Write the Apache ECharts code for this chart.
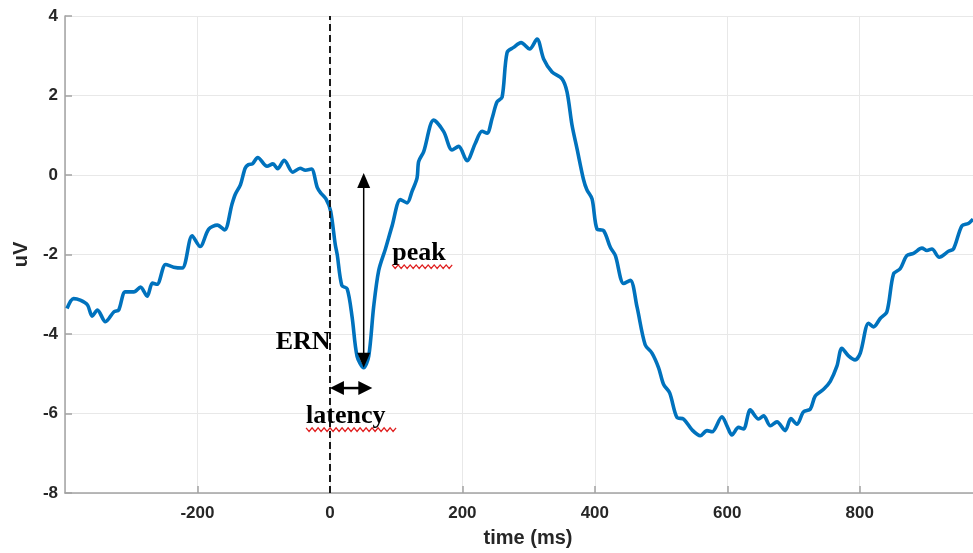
<!DOCTYPE html>
<html><head><meta charset="utf-8">
<script src="https://cdn.jsdelivr.net/npm/echarts@6/dist/echarts.min.js"></script>
<style>html,body{margin:0;padding:0;background:#fff}#c{width:973px;height:553px}</style>
</head><body><div id="c"></div>
<script>
// ---- data ----
const timeMs = [-397,-387,-377,-366,-359,-351,-339,-326,-319,-309,-296,-286,-276,-268,-261,-248,-236,-223,-208,-196,-183,-170,-159,-148,-143,-135,-128,-123,-117,-109,-95,-86,-79,-69,-56,-45,-37,-28,-19,-14,-6,1,8,11,18,26,33.5,41,51,58.6,66,73.7,83.8,93.9,106.4,116.5,124,131.6,134,141.6,156.7,171.8,184.4,194.4,207,219.6,229.7,237.3,244.8,252.4,260,267.5,277.4,288.6,301.6,312.7,322.7,335.4,350.5,358,365.6,373,383,388,395.8,403.3,413.3,423.4,431,443.5,453.6,463.7,476,486.3,496.3,503.9,513,524,534,546.7,559.2,569.4,577,592,599.5,607,617,624.6,634.7,647.2,654.8,665,675,687.5,696,705,715,725.3,732.8,745.4,755.5,765.5,773,783,793,800.8,813.3,820.8,830.9,841,851,861,871,881.2,893.9,901.4,909,920,934,941.6,954.2,964,971];
const amplitude = [-3.36,-3.11,-3.15,-3.27,-3.55,-3.40,-3.69,-3.44,-3.40,-2.94,-2.94,-2.82,-3.05,-2.72,-2.75,-2.25,-2.32,-2.34,-1.53,-1.80,-1.36,-1.26,-1.38,-0.74,-0.49,-0.24,0.17,0.26,0.28,0.44,0.22,0.28,0.16,0.37,0.07,0.17,0.12,0.15,-0.32,-0.45,-0.60,-0.90,-1.74,-2.00,-2.78,-2.86,-3.57,-4.56,-4.85,-4.56,-3.32,-2.40,-1.86,-1.28,-0.62,-0.70,-0.41,-0.07,0.34,0.59,1.38,1.09,0.63,0.72,0.36,0.80,1.10,1.05,1.42,1.84,1.96,3.08,3.21,3.33,3.17,3.42,2.92,2.59,2.42,2.09,1.25,0.67,-0.12,-0.37,-0.60,-1.36,-1.40,-1.82,-2.03,-2.73,-2.65,-3.32,-4.27,-4.48,-4.85,-5.27,-5.48,-6.10,-6.14,-6.41,-6.56,-6.43,-6.46,-6.08,-6.31,-6.54,-6.35,-6.39,-5.91,-6.14,-6.06,-6.31,-6.21,-6.43,-6.13,-6.27,-5.96,-5.89,-5.56,-5.39,-5.19,-4.81,-4.36,-4.55,-4.65,-4.48,-3.73,-3.82,-3.61,-3.44,-2.49,-2.36,-2.03,-1.97,-1.84,-1.90,-1.86,-2.07,-1.92,-1.86,-1.28,-1.22,-1.11];
const xRange = [-400, 971];
const yRange = [-8, 4];
const onsetMs = 0;
const ernPeak = [51, -4.85];
const peakTop = 0.05;
const latencyEnd = 64;
const latencyLevel = -5.36;
const labels = {ern: 'ERN', peak: 'peak', latency: 'latency'};

const axisGray = '#a3a3a3';
const textColor = '#262626';
const chart = echarts.init(document.getElementById('c'), null, {renderer: 'canvas'});
const option = {
  animation: false,
  backgroundColor: '#fff',
  grid: {left: 65, right: 0, top: 16, bottom: 56, containLabel: false},
  xAxis: {
    type: 'value', min: xRange[0], max: xRange[1], interval: 200,
    name: 'time (ms)', nameLocation: 'middle', nameGap: 35,
    nameTextStyle: {fontFamily: 'Liberation Sans', fontWeight: 'bold', fontSize: 20, color: textColor, padding: [0, 0, 0, 18]},
    axisLine: {onZero: false, lineStyle: {color: axisGray, width: 1.5}},
    axisTick: {inside: true, length: 7, lineStyle: {color: axisGray, width: 1.5}},
    axisLabel: {showMinLabel: false, showMaxLabel: false, margin: 12, fontFamily: 'Liberation Sans', fontWeight: 'bold', fontSize: 17, color: textColor},
    splitLine: {show: true, showMaxLine: false, lineStyle: {color: '#e8e8e8', width: 1}}
  },
  yAxis: {
    type: 'value', min: yRange[0], max: yRange[1], interval: 2,
    name: 'uV', nameLocation: 'middle', nameGap: 30, nameRotate: 90,
    nameTextStyle: {fontFamily: 'Liberation Sans', fontWeight: 'bold', fontSize: 20, color: textColor},
    axisLine: {onZero: false, lineStyle: {color: axisGray, width: 1.5}},
    axisTick: {inside: true, length: 7, lineStyle: {color: axisGray, width: 1.5}},
    axisLabel: {margin: 7, fontFamily: 'Liberation Sans', fontWeight: 'bold', fontSize: 17, color: textColor},
    splitLine: {show: true, lineStyle: {color: '#e8e8e8', width: 1}}
  },
  series: [{
    type: 'line',
    data: timeMs.map((t, i) => [t, amplitude[i]]),
    showSymbol: false, symbol: 'none', smooth: 0.3,
    lineStyle: {color: '#0072BD', width: 3.6},
    markLine: {
      silent: true, symbol: 'none', label: {show: false},
      lineStyle: {color: '#1a1a1a', width: 2, type: [7, 4]},
      data: [{xAxis: onsetMs}]
    },
    z: 2
  }]
};
chart.setOption(option);

const P = (t, v) => chart.convertToPixel({gridIndex: 0}, [t, v]);
const g = [];
// vertical double arrow (peak amplitude)
const vt = P(ernPeak[0], peakTop), vb = P(ernPeak[0], ernPeak[1]);
const vh = 15, vw = 13;
g.push({type: 'line', shape: {x1: vt[0], y1: vt[1] + vh - 1, x2: vb[0], y2: vb[1] - vh + 1}, style: {stroke: '#000', lineWidth: 1.5}, z: 10});
g.push({type: 'polygon', shape: {points: [[vt[0], vt[1]], [vt[0] - vw / 2, vt[1] + vh], [vt[0] + vw / 2, vt[1] + vh]]}, style: {fill: '#000'}, z: 10});
g.push({type: 'polygon', shape: {points: [[vb[0], vb[1]], [vb[0] - vw / 2, vb[1] - vh], [vb[0] + vw / 2, vb[1] - vh]]}, style: {fill: '#000'}, z: 10});
// horizontal double arrow (latency)
const hl = P(onsetMs, latencyLevel), hr = P(latencyEnd, latencyLevel);
const hh = 14, hw = 14;
g.push({type: 'line', shape: {x1: hl[0] + hh - 1, y1: hl[1], x2: hr[0] - hh + 1, y2: hr[1]}, style: {stroke: '#000', lineWidth: 2.5}, z: 10});
g.push({type: 'polygon', shape: {points: [[hl[0], hl[1]], [hl[0] + hh, hl[1] - hw / 2], [hl[0] + hh, hl[1] + hw / 2]]}, style: {fill: '#000'}, z: 10});
g.push({type: 'polygon', shape: {points: [[hr[0], hr[1]], [hr[0] - hh, hr[1] - hw / 2], [hr[0] - hh, hr[1] + hw / 2]]}, style: {fill: '#000'}, z: 10});
// texts
const serif = 'bold 26px "Liberation Serif", "DejaVu Serif", serif';
const ernPos = P(1, -4.2), peakPos = P(94, -1.98), latPos = P(-36, -6.08);
g.push({type: 'text', x: ernPos[0], y: ernPos[1], style: {text: labels.ern, font: serif, fill: '#000', align: 'right', verticalAlign: 'middle'}, z: 11});
g.push({type: 'text', x: peakPos[0], y: peakPos[1], style: {text: labels.peak, font: serif, fill: '#000', align: 'left', verticalAlign: 'middle'}, z: 11});
g.push({type: 'text', x: latPos[0], y: latPos[1], style: {text: labels.latency, font: serif, fill: '#000', align: 'left', verticalAlign: 'middle'}, z: 11});
// red spell-check squiggles under "peak" and "latency"
function squiggle(x0, x1, y) {
  const pts = [];
  let up = true;
  for (let x = x0; x <= x1; x += 3) { pts.push([x, y + (up ? -1.8 : 1.8)]); up = !up; }
  return {type: 'polyline', shape: {points: pts}, style: {stroke: '#e02020', lineWidth: 1.3, fill: null}, z: 12};
}
g.push(squiggle(peakPos[0], peakPos[0] + 60, peakPos[1] + 13));
g.push(squiggle(latPos[0], latPos[0] + 90, latPos[1] + 13));
chart.setOption({graphic: g});
</script>
</body></html>
